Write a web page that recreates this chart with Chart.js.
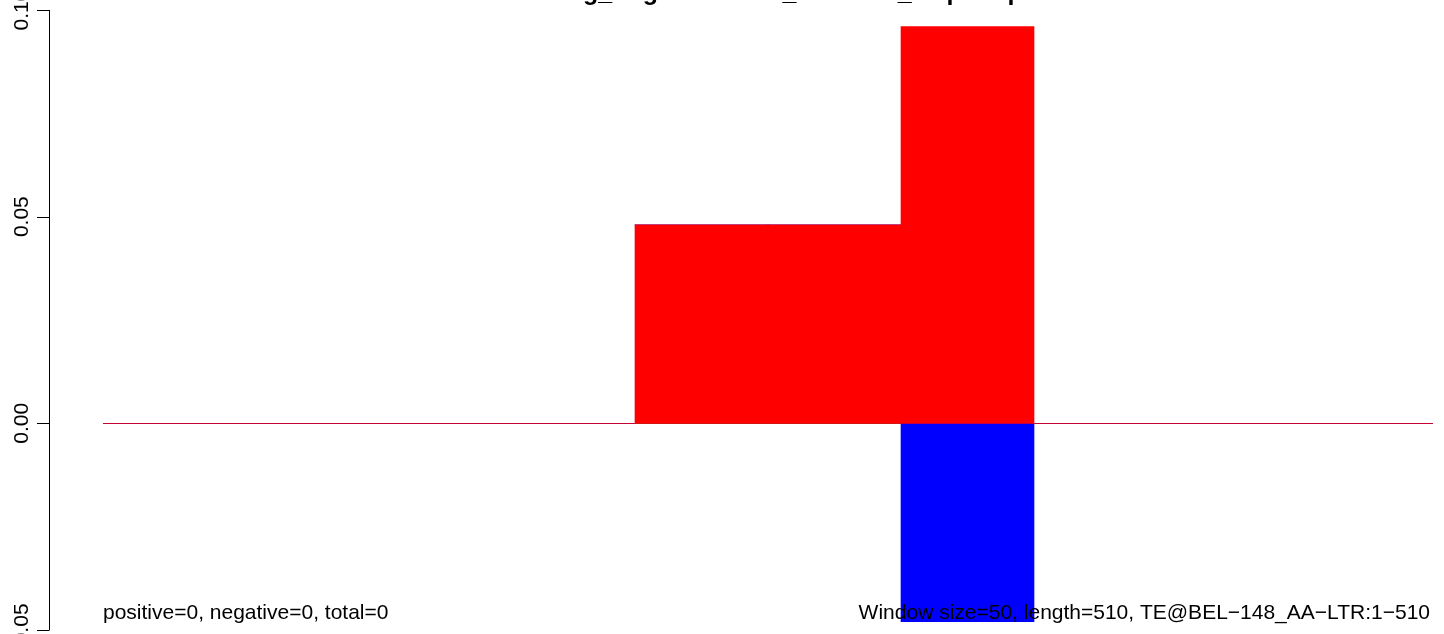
<!DOCTYPE html>
<html>
<head>
<meta charset="utf-8">
<script src="https://cdn.jsdelivr.net/npm/chart.js@4"></script>
<style>
  body { margin: 0; background: #fff; }
  #wrap { width: 1444px; height: 634px; }
</style>
</head>
<body>
<div id="wrap"><canvas id="density" width="1444" height="634"></canvas></div>
<script>
// window starts along the TE (window size 50)
const windowStarts = ["1", "51", "101", "151", "201", "251", "301", "351", "401", "451"];
// density on the sense strand (red, up) and antisense strand (blue, down)
const positiveDensity = [0, 0, 0, 0, 0.048, 0.048, 0.096, 0, 0, 0];
const negativeDensity = [0, 0, 0, 0, 0, 0, -0.048, 0, 0, 0];
// y axis ticks
const yTicks = [-0.05, 0, 0.05, 0.1];
const yTickLabels = ["\u22120.05", "0.00", "0.05", "0.10"];

const titleText = "Long_Segment Total_Counted_Map Step";
const leftNote = "positive=0, negative=0, total=0";
const rightNote = "Window size=50, length=510, TE@BEL\u2212148_AA\u2212LTR:1\u2212510";
const FONT = "'Liberation Sans', Arial, sans-serif";

// zero line drawn under the bars
const zeroLine = {
  id: "zeroLine",
  beforeDatasetsDraw(chart) {
    const { ctx, chartArea, scales } = chart;
    const y = Math.round(scales.y.getPixelForValue(0)) + 0.5;
    ctx.save();
    ctx.strokeStyle = "#555";
    ctx.lineWidth = 1;
    ctx.beginPath();
    ctx.moveTo(chartArea.left, y);
    ctx.lineTo(chartArea.right, y);
    ctx.stroke();
    ctx.restore();
  },
};

// R style left axis, title and notes
const baseAxis = {
  id: "baseAxis",
  afterDraw(chart) {
    const { ctx, chartArea, scales } = chart;
    const yScale = scales.y;
    ctx.save();
    ctx.strokeStyle = "#000";
    ctx.fillStyle = "#000";
    ctx.lineWidth = 1;

    // axis line + ticks
    const ax = 49.5;
    ctx.beginPath();
    ctx.moveTo(ax, yScale.getPixelForValue(yTicks[0]));
    ctx.lineTo(ax, yScale.getPixelForValue(yTicks[yTicks.length - 1]));
    yTicks.forEach((t) => {
      const py = Math.round(yScale.getPixelForValue(t)) + 0.5;
      ctx.moveTo(ax, py);
      ctx.lineTo(37, py);
    });
    ctx.stroke();

    // rotated tick labels
    ctx.font = "21px " + FONT;
    ctx.textAlign = "center";
    ctx.textBaseline = "alphabetic";
    yTicks.forEach((t, i) => {
      const py = yScale.getPixelForValue(t);
      ctx.save();
      ctx.translate(28, py);
      ctx.rotate(-Math.PI / 2);
      ctx.fillText(yTickLabels[i], 0, 0);
      ctx.restore();
    });

    // title, mostly above the top edge
    ctx.font = "bold 25px " + FONT;
    ctx.textAlign = "center";
    ctx.fillText(titleText, (chartArea.left + chartArea.right) / 2 + 12, 0);

    // notes at the bottom
    ctx.font = "21px " + FONT;
    ctx.textAlign = "left";
    ctx.fillText(leftNote, chartArea.left, 619);
    ctx.textAlign = "right";
    ctx.fillText(rightNote, chartArea.right - 3, 619);
    ctx.restore();
  },
};

new Chart(document.getElementById("density").getContext("2d"), {
  type: "bar",
  data: {
    labels: windowStarts,
    datasets: [
      {
        label: "positive",
        data: positiveDensity,
        backgroundColor: "#ff0000",
        barPercentage: 1,
        categoryPercentage: 1,
      },
      {
        label: "negative",
        data: negativeDensity,
        backgroundColor: "#0000ff",
        barPercentage: 1,
        categoryPercentage: 1,
      },
    ],
  },
  options: {
    responsive: false,
    animation: false,
    devicePixelRatio: 1,
    layout: { padding: { left: 103, right: 11, top: 10, bottom: 4 } },
    plugins: {
      legend: { display: false },
      tooltip: { enabled: false },
    },
    scales: {
      x: { display: false, stacked: true, grid: { display: false } },
      y: { display: false, stacked: true, min: -0.05, max: 0.1, grid: { display: false } },
    },
  },
  plugins: [zeroLine, baseAxis],
});
</script>
</body>
</html>
